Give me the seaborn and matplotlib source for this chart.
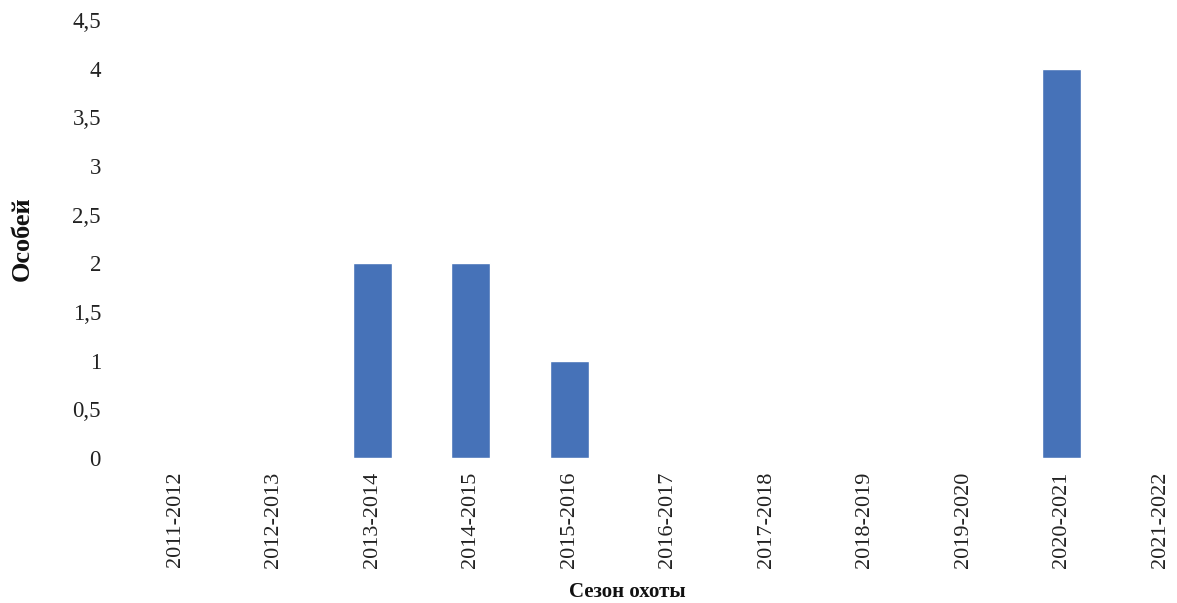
import pandas as pd
import matplotlib
matplotlib.use("Agg")
import matplotlib.pyplot as plt
import seaborn as sns

# datos del gráfico
seasons = ['2011-2012', '2012-2013', '2013-2014', '2014-2015', '2015-2016',
           '2016-2017', '2017-2018', '2018-2019', '2019-2020', '2020-2021',
           '2021-2022']
counts = [0, 0, 2, 2, 1, 0, 0, 0, 0, 4, 0]
y_ticks = [0, 0.5, 1, 1.5, 2, 2.5, 3, 3.5, 4, 4.5]

df = pd.DataFrame({'season': seasons, 'count': counts})

sns.set_style('white')
plt.rcParams['font.family'] = ['Liberation Serif', 'DejaVu Serif']

fig = plt.figure(figsize=(11.77, 6.03), dpi=100)
ax = fig.add_axes([0.107, 0.2405, 0.893, 0.7263])

sns.barplot(data=df, x='season', y='count', color='#4672b8', saturation=1,
            width=0.4, ax=ax)

ax.set_xlim(-0.5, 10.17)
ax.set_ylim(0, 4.5)
ax.set_yticks(y_ticks)
ax.set_yticklabels([str(t).replace('.', ',').replace(',0', '') for t in y_ticks])
for s in ax.spines.values():
    s.set_visible(False)
ax.tick_params(axis='y', length=0, pad=18, labelsize=16.5, colors='#222222')
ax.tick_params(axis='x', length=0, pad=10, labelsize=16, colors='#222222',
               labelrotation=90)

ax.set_ylabel('Особей', fontsize=19, fontweight='bold', color='#111111')
ax.set_xlabel('Сезон охоты', fontsize=15, fontweight='bold', color='#111111')
ax.yaxis.set_label_coords(-0.088, 0.5)
ax.xaxis.set_label_coords(0.4767, -0.283)

fig.savefig('out.png', dpi=100)
